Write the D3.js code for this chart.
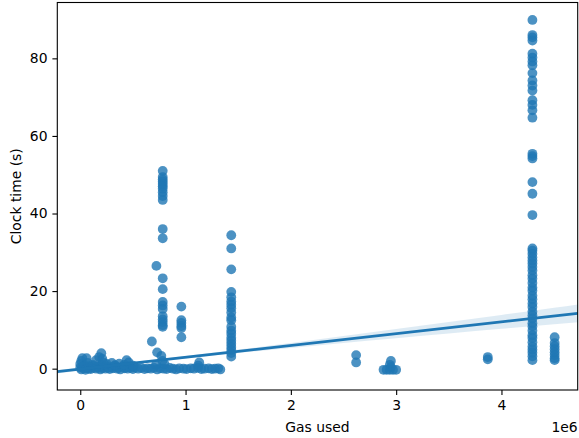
<!DOCTYPE html>
<html>
<head>
<meta charset="utf-8">
<script src="https://cdn.jsdelivr.net/npm/d3@7"></script>
<style>
  html, body { margin: 0; padding: 0; background: #fff; }
  svg { display: block; font-family: "DejaVu Sans", sans-serif; }
</style>
</head>
<body>
<svg id="chart" width="579" height="438"></svg>
<script>
// ---------------- DATA (gas used in units of 1e6, clock time in seconds) ----------------
// Low cluster near zero clock time
const lowGas = [0.00,0.01,0.02,0.03,0.04,0.05,0.06,0.07,0.08,0.09,0.10,0.12,0.13,0.15,0.16,0.18,0.19,0.20,0.21,0.22,
                0.24,0.25,0.27,0.28,0.30,0.31,0.33,0.35,0.36,0.38,0.40,0.42,0.43,0.45,0.47,0.48,0.50,0.52,0.55,0.58,
                0.61,0.64,0.67,0.70,0.73,0.76,0.79,0.82,0.85,0.88,0.91,0.94,0.98,1.01,1.05,1.08,1.12,1.15,1.18,1.22,
                1.25,1.28,1.31,1.33,
                0.00,0.01,0.02,0.06,0.07,0.12,0.15,0.18,0.20,0.21,0.22,0.25,0.30,0.33,0.37,0.42,0.44,0.46,0.50,
                0.68,0.73,0.77,0.78,0.80,0.72,1.13,1.12];
const lowTime = [0.3,-0.2,0.5,0.1,0.8,-0.3,0.2,0.6,0.0,0.4,-0.1,0.7,0.2,0.0,0.5,0.3,-0.2,0.9,0.1,0.4,
                 0.0,0.6,0.2,-0.1,0.4,0.1,0.7,0.0,0.3,-0.2,0.5,0.1,0.3,0.0,0.6,0.2,-0.1,0.3,0.0,0.2,
                 -0.1,0.1,0.0,0.2,-0.2,0.1,0.0,-0.1,0.2,0.0,-0.2,0.1,0.0,-0.1,0.1,0.0,0.2,-0.1,0.0,0.1,
                 -0.1,0.0,0.1,-0.2,
                 1.2,2.0,2.7,2.7,1.5,1.0,2.2,3.0,4.0,2.5,1.6,1.2,1.5,0.9,1.3,1.0,2.2,1.6,0.8,
                 7.0,4.2,3.3,2.0,1.2,1.0,1.6,0.8];

// Column near 0.78e6
const colAGas  = [0.783,0.783,0.783,0.783,0.783,0.783,0.783,0.783,0.783,0.783,0.783,0.783,0.723,0.783,0.783,
                  0.783,0.783,0.783,0.783,0.783,0.783,0.783,0.783];
const colATime = [51.0,49.4,48.8,48.2,47.6,47.0,46.4,45.5,44.5,43.5,36.0,33.6,26.5,23.3,20.5,
                  17.2,16.3,15.4,13.5,12.7,12.0,11.2,10.8];

// Column near 0.96e6
const colBGas  = [0.96,0.96,0.96,0.96,0.96,0.96];
const colBTime = [16.0,12.5,11.8,11.0,10.5,8.1];

// Column near 1.43e6
const colCGas  = [1.434,1.434,1.434,1.434,1.434,1.434,1.434,1.434,1.434,1.434,1.434,
                  1.434,1.434,1.434,1.434,1.434,1.434,1.434,1.434,1.434,1.434];
const colCTime = [34.4,31.0,25.6,19.8,18.4,17.3,16.5,15.6,14.5,13.2,12.5,
                  10.8,9.8,9.0,8.0,7.2,6.4,5.6,4.8,4.0,3.1];

// Middle groups (2.6e6 – 3.9e6)
const midGas  = [2.62,2.62,2.95,2.94,2.95,2.88,2.91,2.94,2.97,3.00,3.87,3.87];
const midTime = [3.5,1.6,2.0,1.0,0.4,-0.3,-0.3,-0.3,-0.3,-0.3,2.4,3.0];

// Column near 4.29e6
const colDGas  = [4.294,4.294,4.294,4.294,4.294,4.294,4.294,4.294,4.294,4.294,4.294,4.294,4.294,4.294,4.294,
                  4.294,4.294,4.294,4.294,4.294,4.294,4.294,
                  4.294,4.294,4.294,4.294,4.294,4.294,4.294,4.294,4.294,4.294,4.294,4.294,4.294,4.294,4.294,
                  4.294,4.294,4.294,4.294,4.294,4.294,4.294,4.294,4.294,4.294,4.294,4.294,4.294,4.294,4.294,4.294];
const colDTime = [89.9,86.0,85.4,84.6,81.2,80.2,79.2,78.2,76.2,74.3,73.0,71.7,69.2,68.0,66.6,
                  64.7,55.4,54.8,54.2,48.1,45.1,39.6,
                  31.0,30.4,29.6,28.7,27.9,27.1,26.2,25.3,24.1,23.2,22.1,20.9,20.1,18.8,17.9,
                  16.8,15.9,14.7,13.8,12.9,11.7,10.9,9.8,8.6,7.9,6.8,5.7,4.9,4.1,3.2,2.2];

// Column near 4.5e6
const colEGas  = [4.505,4.505,4.505,4.505,4.505,4.505,4.505,4.505];
const colETime = [8.1,6.6,5.8,5.0,4.2,3.5,2.7,2.2];

// Regression fit (clock = intercept + slope * gas[1e6]) and confidence band half-widths
const fitIntercept = -0.10;
const fitSlope = 3.04;
const ciGas  = [-0.22,0.5,1.0,1.5,2.0,2.5,3.0,3.5,4.0,4.5,4.73];
const ciHalf = [0.45,0.3,0.3,0.45,0.65,0.9,1.2,1.5,1.8,2.1,2.3];

const xTicks = [0,1,2,3,4];
const yTicks = [0,20,40,60,80];

// ---------------- CHART ----------------
const svg = d3.select("#chart");
const mL = 57.3, mR = 577.7, mT = 2.5, mB = 390;
const color = "#1f77b4";

const x = d3.scaleLinear().domain([-0.218, 4.724]).range([mL, mR]);
const y = d3.scaleLinear().domain([-5.5, 94.4]).range([mB, mT]);

svg.append("defs").append("clipPath").attr("id","clip")
  .append("rect").attr("x", mL).attr("y", mT).attr("width", mR-mL).attr("height", mB-mT);

const plot = svg.append("g").attr("clip-path","url(#clip)");

const gas = [].concat(lowGas, colAGas, colBGas, colCGas, midGas, colDGas, colEGas);
const time = [].concat(lowTime, colATime, colBTime, colCTime, midTime, colDTime, colETime);
const pts = gas.map((g,i)=>({g, t: time[i]}));

plot.append("g").selectAll("circle").data(pts).join("circle")
  .attr("cx", d => x(d.g)).attr("cy", d => y(d.t)).attr("r", 4.9)
  .attr("fill", color).attr("fill-opacity", 0.8);

// CI band
const band = ciGas.map((g,i)=>({g, lo: fitIntercept + fitSlope*g - ciHalf[i], hi: fitIntercept + fitSlope*g + ciHalf[i]}));
plot.append("path").datum(band)
  .attr("d", d3.area().x(d=>x(d.g)).y0(d=>y(d.lo)).y1(d=>y(d.hi)).curve(d3.curveMonotoneX))
  .attr("fill", color).attr("fill-opacity", 0.15);

// Fit line
const xd = x.domain();
plot.append("line")
  .attr("x1", x(xd[0])).attr("y1", y(fitIntercept + fitSlope*xd[0]))
  .attr("x2", x(xd[1])).attr("y2", y(fitIntercept + fitSlope*xd[1]))
  .attr("stroke", color).attr("stroke-width", 2.8);

// Axes
const xAxis = svg.append("g").attr("transform", `translate(0,${mB})`)
  .call(d3.axisBottom(x).tickValues(xTicks).tickFormat(d3.format("d")).tickSize(4.9).tickPadding(4.9));
const yAxis = svg.append("g").attr("transform", `translate(${mL},0)`)
  .call(d3.axisLeft(y).tickValues(yTicks).tickFormat(d3.format("d")).tickSize(4.9).tickPadding(4.9));
[xAxis, yAxis].forEach(a => {
  a.select(".domain").remove();
  a.selectAll(".tick line").attr("stroke", "#000").attr("stroke-width", 1.1);
  a.selectAll(".tick text").attr("fill", "#000").style("font-size", "13.9px").style("font-family", "DejaVu Sans");
});

// Frame
svg.append("rect").attr("x", mL).attr("y", mT).attr("width", mR-mL).attr("height", mB-mT)
  .attr("fill", "none").attr("stroke", "#000").attr("stroke-width", 1.1);

// Labels
svg.append("text").attr("x", (mL+mR)/2).attr("y", 432).attr("text-anchor","middle")
  .style("font-size","13.9px").text("Gas used");
svg.append("text").attr("transform", `translate(21,${(mT+mB)/2}) rotate(-90)`).attr("text-anchor","middle")
  .style("font-size","13.9px").text("Clock time (s)");
svg.append("text").attr("x", mR).attr("y", 432).attr("text-anchor","end")
  .style("font-size","13.9px").text("1e6");
</script>
</body>
</html>
